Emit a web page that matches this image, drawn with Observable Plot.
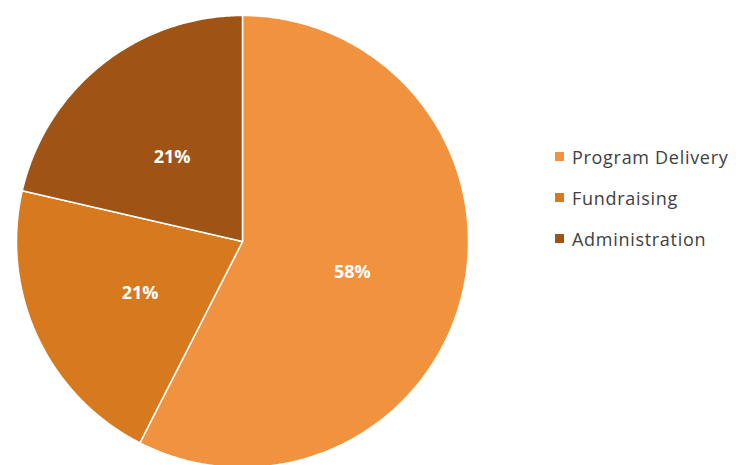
<!DOCTYPE html>
<html>
<head>
<meta charset="utf-8">
<script src="https://cdn.jsdelivr.net/npm/d3@7"></script>
<script src="https://cdn.jsdelivr.net/npm/@observablehq/plot@0.6"></script>
<style>
  html, body { margin: 0; padding: 0; background: #fff; }
  #wrap { position: relative; width: 736px; height: 465px; overflow: hidden; }
  #legend { position: absolute; left: 555px; top: 136px; font-family: "Open Sans", sans-serif; font-size: 18px; letter-spacing: 0.7px; color: #404040; }
  .row { display: flex; align-items: center; height: 41px; }
  .sw { width: 9px; height: 9px; margin-right: 8px; }
</style>
</head>
<body>
<div id="wrap"></div>
<script>
const categories = ["Program Delivery", "Fundraising", "Administration"];
const values = [57.5, 21.1, 21.4];
const labels = ["58%", "21%", "21%"];
const colors = ["#F1933E", "#D6791F", "#9F5416"];

const pie = d3.pie().sort(null).value(d => d.value)(
  categories.map((c, i) => ({category: c, value: values[i], label: labels[i]}))
);

// polygon outlines for each slice in unit-circle coordinates
const outline = [];
for (const a of pie) {
  const cat = a.data.category;
  outline.push({category: cat, x: 0, y: 0});
  const n = Math.max(2, Math.ceil((a.endAngle - a.startAngle) / 0.01));
  for (let k = 0; k <= n; k++) {
    const t = a.startAngle + (a.endAngle - a.startAngle) * k / n;
    outline.push({category: cat, x: Math.sin(t), y: Math.cos(t)});
  }
  outline.push({category: cat, x: 0, y: 0});
}
const centroids = pie.map(a => {
  const t = (a.startAngle + a.endAngle) / 2;
  return {label: a.data.label, x: 0.5 * Math.sin(t), y: 0.5 * Math.cos(t)};
});

const chart = Plot.plot({
  width: 736,
  height: 465,
  marginLeft: 16,
  marginRight: 268,
  marginTop: 15,
  marginBottom: -2,
  x: {domain: [-1, 1], axis: null},
  y: {domain: [-1, 1], axis: null},
  color: {domain: categories, range: colors},
  style: {background: "#fff"},
  marks: [
    Plot.line(outline, {x: "x", y: "y", z: "category", fill: "category", stroke: "#fff", strokeWidth: 1.5, curve: "linear"}),
    Plot.text(centroids, {x: "x", y: "y", dy: 4, text: "label", fill: "#fff", fontSize: 18, fontWeight: "bold", fontFamily: "Open Sans"})
  ]
});
const wrap = document.getElementById("wrap");
wrap.appendChild(chart);

const legend = document.createElement("div");
legend.id = "legend";
categories.forEach((c, i) => {
  const row = document.createElement("div");
  row.className = "row";
  const sw = document.createElement("div");
  sw.className = "sw";
  sw.style.background = colors[i];
  const tx = document.createElement("span");
  tx.textContent = c;
  row.appendChild(sw);
  row.appendChild(tx);
  legend.appendChild(row);
});
wrap.appendChild(legend);
</script>
</body>
</html>
